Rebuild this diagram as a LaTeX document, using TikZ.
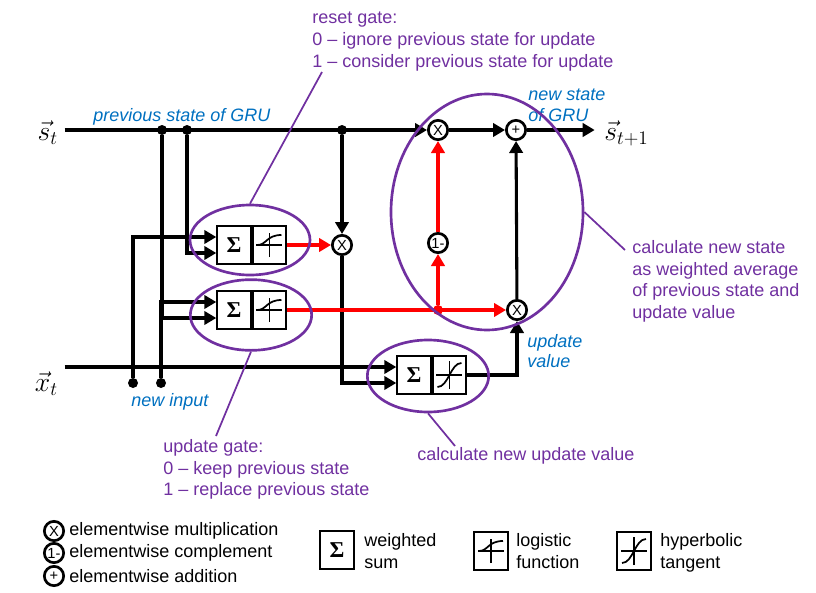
\documentclass[tikz,border=0pt]{standalone}
\usepackage{fontspec}
\setmainfont{Liberation Sans}
\newfontfamily\sigmafont{Liberation Serif}
\usetikzlibrary{arrows.meta,shapes.geometric}

\definecolor{gatepurple}{RGB}{112,48,160}
\definecolor{labelblue}{RGB}{0,112,192}

\newcommand{\wsum}{{\sigmafont\bfseries Σ}}

\tikzset{
  wire/.style={line width=2.3pt},
  arr/.style={wire,-{Triangle[length=9pt,width=10pt]}},
  redarr/.style={arr,red},
  dot/.style={circle,fill=black,inner sep=0pt,minimum size=7.5pt},
  op/.style={circle,draw,line width=2pt,fill=white,inner sep=0pt,minimum size=14.5pt,font=\fontsize{11}{11}\selectfont},
  sumbox/.style={draw,line width=1.6pt,fill=white,minimum width=25pt,minimum height=28pt,inner sep=0pt,font=\fontsize{17}{17}\selectfont},
  fnbox/.style={sumbox},
  glyph/.style={line width=1.3pt},
  oval/.style={ellipse,draw=gatepurple,line width=2pt},
  note/.style={draw=gatepurple,line width=1.3pt},
  notetext/.style={text=gatepurple,align=left,anchor=north west,inner sep=0pt,font=\fontsize{13.5}{16.3}\selectfont},
  bluetext/.style={text=labelblue,align=left,anchor=north west,inner sep=0pt,font=\fontsize{13.5}{15.5}\selectfont\itshape},
  keytext/.style={align=left,inner sep=0pt,font=\fontsize{13.5}{16.3}\selectfont},
  statevec/.style={inner sep=0pt,font=\huge},
  logi/.pic={
    \draw[glyph] (-13,0) -- (13,0) (0,-12) -- (0,12);
    \draw[glyph] (-12,0) .. controls (-3,0) and (-3,10) .. (12,10);
  },
  tanhg/.pic={
    \draw[glyph] (-13,0) -- (13,0) (0,-14) -- (0,14);
    \draw[glyph] (-12,-12) .. controls (-1,-12) and (1,12) .. (12,12);
  }
}

\begin{document}
\begin{tikzpicture}[x=0.75pt,y=0.75pt,yscale=-1]
\useasboundingbox (0,0) rectangle (816,592);

% state and input vectors
\node[statevec,anchor=base east] (st) at (58,140) {$\vec{s}_t$};
\node[statevec,anchor=base east] (xt) at (58,391) {$\vec{x}_t$};
\node[statevec,anchor=base west] (stn) at (604,140) {$\vec{s}_{t+1}$};

% gates
\node[sumbox] (rs) at (234,245) {\wsum};
\node[fnbox,anchor=west] (rf) at (rs.east) {};
\pic at (rf) {logi};
\node[sumbox] (us) at (234,310) {\wsum};
\node[fnbox,anchor=west] (uf) at (us.east) {};
\pic at (uf) {logi};
\node[sumbox] (ns) at (414,375) {\wsum};
\node[fnbox,anchor=west] (nf) at (ns.east) {};
\pic at (nf) {tanhg};

% elementwise operations
\node[op] (mulR) at (342,245) {X};
\node[op] (mulS) at (438,130) {X};
\node[op] (onem) at (438,243) {1-};
\node[op] (plus) at (516,130) {+};
\node[op] (mulU) at (517,310) {X};

% branch points
\node[dot] (d1) at (162,130) {};
\node[dot] (d2) at (187,130) {};
\node[dot] (d3) at (342,130) {};
\node[dot] (d4) at (133,383) {};
\node[dot] (d5) at (161,383) {};
\node[dot,fill=red] (rd) at (mulS |- uf) {};

\coordinate (rin2) at ([yshift=-6pt]rs.west);
\coordinate (nin2) at ([yshift=-6pt]ns.west);

% wires
\draw[arr] ([xshift=5pt]st.east |- mulS) -- (mulS);
\draw[arr] ([xshift=5pt]xt.east |- nin2) -- (nin2);
\draw[arr] (d2) |- ([yshift=6pt]rs.west);
\draw[arr] (d4) |- (rin2);
\draw[wire] (d1) -- ([yshift=4pt]d1 |- rin2);
\draw[arr] ([yshift=-4pt]d1 |- rin2) |- ([yshift=6pt]us.west);
\draw[arr] (d5) |- ([yshift=-6pt]us.west);
\draw[arr] (d3) -- (mulR);
\draw[wire] (mulR) -- ([yshift=7pt]mulR |- uf.east);
\draw[arr] ([yshift=-7pt]mulR |- uf.east) |- ([yshift=6pt]ns.west);
\draw[arr] (nf) -| (mulU);
\draw[arr] (mulS) -- (plus);
\draw[arr] (mulU) -- (plus);
\draw[arr] (plus) -- ([xshift=-7pt]stn.west |- plus);

\draw[redarr] (rf) -- (mulR);
\draw[redarr] (uf) -- (mulU);
\draw[redarr] (rd) -- (onem);
\draw[redarr] (onem) -- (mulS);

% blue labels
\node[bluetext] (prevlbl) at (93,108) {previous state of GRU};
\node[bluetext] (newlbl) at (528,89) {new state\\of GRU};
\node[bluetext] (updlbl) at (527,334) {update\\value};
\node[bluetext] (inlbl) at (131,393) {new input};

% ovals and notes
\node[oval,minimum width=90pt,minimum height=52.5pt] (resetov) at (250,240) {};
\node[oval,minimum width=91pt,minimum height=53pt] (updov) at (251,315) {};
\node[oval,minimum width=91pt,minimum height=54pt] (valov) at (428,376) {};
\node[oval,minimum width=144pt,minimum height=177pt] (stateov) at (487,212) {};

\node[notetext] (resettxt) at (312,12) {reset gate:\\0 -- ignore previous state for update\\1 -- consider previous state for update};
\node[notetext] (updtxt) at (163,439) {update gate:\\0 -- keep previous state\\1 -- replace previous state};
\node[notetext] (valtxt) at (417,447) {calculate new update value};
\node[notetext] (statetxt) at (632,240) {calculate new state\\as weighted average\\of previous state and\\update value};

\coordinate (resetnote) at (322,72);
\coordinate (updnote) at (216,436);
\coordinate (valnote) at (455,446);
\coordinate (statenote) at (625,250);
\draw[note] (resetov.north) -- (resetnote);
\draw[note] (updov.south) -- (updnote);
\draw[note] (valov.south) -- (valnote);
\draw[note] (stateov.east) -- (statenote);

% legend
\node[op] (keymul) at (54,531) {X};
\node[op] (keyone) at (54,553) {1-};
\node[op] (keyadd) at (54,576) {+};
\node[keytext,anchor=west] (keymultxt) at ([xshift=3pt]keymul.east) {elementwise multiplication};
\node[keytext,anchor=west] (keyonetxt) at ([xshift=3pt]keyone.east) {elementwise complement};
\node[keytext,anchor=west] (keyaddtxt) at ([xshift=3pt]keyadd.east) {elementwise addition};

\node[sumbox,minimum width=26pt,minimum height=29pt] (keysum) at (337,550) {\wsum};
\node[keytext,anchor=north west] (keysumtxt) at (364,533) {weighted\\sum};
\node[fnbox,minimum width=26pt,minimum height=28pt] (keylogi) at (491,551) {};
\pic at (keylogi) {logi};
\node[keytext,anchor=north west] (keylogitxt) at (516,533) {logistic\\function};
\node[fnbox,minimum width=26pt,minimum height=28pt] (keytanh) at (634,551) {};
\pic at (keytanh) {tanhg};
\node[keytext,anchor=north west] (keytanhtxt) at (660,533) {hyperbolic\\tangent};

\end{tikzpicture}
\end{document}
